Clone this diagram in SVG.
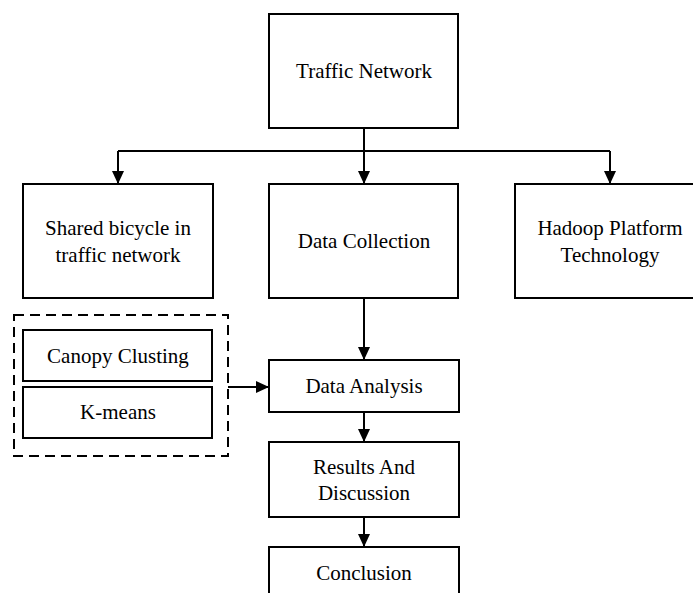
<svg xmlns="http://www.w3.org/2000/svg" width="693" height="593" viewBox="0 0 693 593">
<style>
.box{fill:#fff;stroke:#000;stroke-width:2}
.dash{fill:none;stroke:#000;stroke-width:2;stroke-dasharray:10,6}
.ln{fill:none;stroke:#000;stroke-width:2}
text{font-family:"Liberation Serif","Times New Roman",serif;font-size:21px;fill:#000;text-anchor:middle}
</style>
<defs>
<marker id="ah" markerUnits="userSpaceOnUse" markerWidth="14" markerHeight="14" viewBox="0 0 14 14" refX="13" refY="7" orient="auto">
<path d="M0,1 L13,7 L0,13 Z" fill="#000"/>
</marker>
</defs>
<rect width="693" height="593" fill="#fff"/>
<g id="connectors">
<path class="ln" d="M364,128 V151"/>
<path class="ln" d="M118,151 H610"/>
<path class="ln" d="M118,151 V184" marker-end="url(#ah)"/>
<path class="ln" d="M364,151 V184" marker-end="url(#ah)"/>
<path class="ln" d="M610,151 V184" marker-end="url(#ah)"/>
<path class="ln" d="M364,298 V360" marker-end="url(#ah)"/>
<path class="ln" d="M228,387 H269" marker-end="url(#ah)"/>
<path class="ln" d="M364,412 V442" marker-end="url(#ah)"/>
<path class="ln" d="M364,517 V547" marker-end="url(#ah)"/>
</g>
<g id="traffic-network">
<rect class="box" x="269" y="14" width="189" height="114"/>
<text x="364" y="78">Traffic Network</text>
</g>
<g id="shared-bicycle">
<rect class="box" x="23" y="184" width="190" height="114"/>
<text x="118" y="235">Shared bicycle in</text>
<text x="118" y="262">traffic network</text>
</g>
<g id="data-collection">
<rect class="box" x="269" y="184" width="189" height="114"/>
<text x="364" y="248">Data Collection</text>
</g>
<g id="hadoop">
<rect class="box" x="515" y="184" width="190" height="114"/>
<text x="610" y="235">Hadoop Platform</text>
<text x="610" y="262">Technology</text>
</g>
<g id="algorithms">
<rect class="dash" x="14" y="315" width="214" height="141"/>
</g>
<g id="canopy">
<rect class="box" x="23" y="330" width="189" height="51"/>
<text x="118" y="363">Canopy Clusting</text>
</g>
<g id="kmeans">
<rect class="box" x="23" y="387" width="189" height="51"/>
<text x="118" y="419">K-means</text>
</g>
<g id="data-analysis">
<rect class="box" x="269" y="360" width="190" height="52"/>
<text x="364" y="393">Data Analysis</text>
</g>
<g id="results">
<rect class="box" x="269" y="442" width="190" height="75"/>
<text x="364" y="474">Results And</text>
<text x="364" y="500">Discussion</text>
</g>
<g id="conclusion">
<rect class="box" x="269" y="547" width="190" height="60"/>
<text x="364" y="580">Conclusion</text>
</g>
</svg>
